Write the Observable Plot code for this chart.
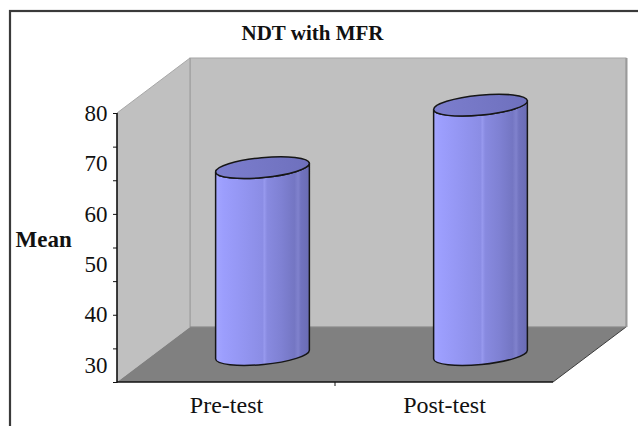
<!DOCTYPE html>
<html>
<head>
<meta charset="utf-8">
<script src="https://cdn.jsdelivr.net/npm/d3@7"></script>
<script src="https://cdn.jsdelivr.net/npm/@observablehq/plot@0.6"></script>
<style>
  html, body { margin: 0; padding: 0; background: #fff; }
  #chart svg { display: block; }
</style>
</head>
<body>
<div id="chart"></div>
<script>
// ---- data ----
const title = "NDT with MFR";
const yLabel = "Mean";
const categories = ["Pre-test", "Post-test"];
const means = [63.7, 76.1];
const yTickLabels = [30, 40, 50, 60, 70, 80];
const yDomain = [26.6, 80];

// ---- styling / layout constants ----
const SERIF = "'Liberation Serif', 'Times New Roman', Times, serif";
const DX = 73, DY = -55;          // 3D depth offset (px)
const NS = "http://www.w3.org/2000/svg";
const data = categories.map((c, i) => ({category: c, mean: means[i]}));
const minorTicks = d3.range(9).map(i => yDomain[1] - i * (yDomain[1] - yDomain[0]) / 8);

function el(doc, tag, attrs, parent) {
  const e = doc.createElementNS(NS, tag);
  for (const k in attrs) e.setAttribute(k, attrs[k]);
  if (parent) parent.appendChild(e);
  return e;
}

// walls, floor, outer border
function decor(index, scales, values, dims, context) {
  const doc = (context && context.document) || document;
  const g = el(doc, "g", {});
  const L = dims.marginLeft, R = dims.width - dims.marginRight;
  const T = dims.marginTop, B = dims.height - dims.marginBottom;
  // outer border (cropped at right/bottom)
  el(doc, "rect", {x: 10, y: 11, width: dims.width + 20, height: dims.height + 20,
    fill: "none", stroke: "#3a3a3a", "stroke-width": 2.2}, g);
  // back wall
  el(doc, "rect", {x: L + DX, y: T + DY, width: R - L, height: B - T,
    fill: "#c0c0c0", stroke: "#a6a6a6", "stroke-width": 1}, g);
  el(doc, "line", {x1: R + DX + 0.5, x2: R + DX + 0.5, y1: T + DY, y2: B + DY,
    stroke: "#9a9a9a", "stroke-width": 2}, g);
  // side wall
  el(doc, "path", {d: `M${L},${T}L${L + DX},${T + DY}L${L + DX},${B + DY}L${L},${B}Z`,
    fill: "#c0c0c0", stroke: "none"}, g);
  el(doc, "line", {x1: L, y1: T, x2: L + DX, y2: T + DY, stroke: "#a8a8a8", "stroke-width": 1}, g);
  el(doc, "line", {x1: L + DX, y1: T + DY, x2: L + DX, y2: B + DY, stroke: "#9a9a9a", "stroke-width": 1}, g);
  // floor
  el(doc, "path", {d: `M${L},${B}L${L + DX},${B + DY}L${R + DX},${B + DY}L${R},${B}Z`,
    fill: "#808080", stroke: "none"}, g);
  el(doc, "line", {x1: R, y1: B, x2: R + DX, y2: B + DY, stroke: "#3c3c3c", "stroke-width": 1}, g);
  el(doc, "line", {x1: L + DX, y1: B + DY, x2: R + DX, y2: B + DY, stroke: "#8a8a8a", "stroke-width": 1}, g);
  return g;
}

// axis lines + category tick
function axisLines(index, scales, values, dims, context) {
  const doc = (context && context.document) || document;
  const g = el(doc, "g", {});
  const L = dims.marginLeft, R = dims.width - dims.marginRight;
  const T = dims.marginTop, B = dims.height - dims.marginBottom;
  el(doc, "line", {x1: L, y1: T, x2: L, y2: B + 0.75, stroke: "#111", "stroke-width": 1.6}, g);
  el(doc, "line", {x1: L, y1: B, x2: R, y2: B, stroke: "#111", "stroke-width": 1.6}, g);
  for (const c of categories.slice(1)) {
    const x = scales.x(c);
    el(doc, "line", {x1: x, x2: x, y1: B, y2: B + 4, stroke: "#111", "stroke-width": 1}, g);
  }
  return g;
}

// cylinders
function cylinders(index, scales, values, dims, context) {
  const doc = (context && context.document) || document;
  const g = el(doc, "g", {});
  const defs = el(doc, "defs", {}, g);
  const grad = el(doc, "linearGradient", {id: "cylBody", x1: 0, x2: 1, y1: 0, y2: 0}, defs);
  [[0, "#a4a6ff"], [0.08, "#9c9efd"], [0.3, "#9395f1"], [0.5, "#8b8de5"], [0.52, "#9799ee"],
   [0.55, "#888ae0"], [0.7, "#7f81d3"], [0.84, "#7476c3"], [0.88, "#8082cd"], [0.91, "#7173bf"],
   [1, "#6a6cb4"]].forEach(([o, c]) => el(doc, "stop", {offset: o, "stop-color": c}, grad));
  const gradTop = el(doc, "linearGradient", {id: "cylTop", x1: 0, x2: 1, y1: 0, y2: 0}, defs);
  [[0, "#7c7ece"], [1, "#6e70bd"]].forEach(([o, c]) => el(doc, "stop", {offset: o, "stop-color": c}, gradTop));

  const bw = scales.x.bandwidth ? scales.x.bandwidth()
    : (dims.width - dims.marginLeft - dims.marginRight) / categories.length;
  const rx = bw * 0.216, ry = 10, rotDeg = -5.5;
  const th = rotDeg * Math.PI / 180, cs = Math.cos(th), sn = Math.sin(th);
  for (const d of data) {
    const cx = scales.x(d.category) + bw / 2 + DX / 2;
    const yb = scales.y(yDomain[0]) + DY / 2;
    const yt = scales.y(d.mean) + DY / 2;
    const lx = cx - rx * cs, rxp = cx + rx * cs;
    const ldy = -rx * sn, rdy = rx * sn;
    const body = `M${lx},${yt + ldy}L${lx},${yb + ldy}` +
      `A${rx},${ry} ${rotDeg} 0 0 ${rxp},${yb + rdy}` +
      `L${rxp},${yt + rdy}` +
      `A${rx},${ry} ${rotDeg} 0 1 ${lx},${yt + ldy}Z`;
    el(doc, "path", {d: body, fill: "url(#cylBody)", stroke: "#161616", "stroke-width": 1.5,
      "stroke-linejoin": "round"}, g);
    el(doc, "ellipse", {cx: cx, cy: yt, rx: rx, ry: ry, transform: `rotate(${rotDeg} ${cx} ${yt})`,
      fill: "url(#cylTop)", stroke: "#161616", "stroke-width": 1.5}, g);
  }
  return g;
}

const chart = Plot.plot({
  width: 638,
  height: 426,
  marginLeft: 117,
  marginRight: 85,
  marginTop: 113,
  marginBottom: 44,
  style: {fontFamily: SERIF, background: "#fff", color: "#111", overflow: "visible"},
  x: {type: "band", domain: categories, padding: 0, axis: null},
  y: {type: "linear", domain: yDomain, axis: null},
  marks: [
    decor,
    cylinders,
    axisLines,
    Plot.axisY({ticks: minorTicks, tickSize: 4, tickFormat: () => "", label: null, stroke: "#111"}),
    Plot.axisY({ticks: yTickLabels, tickSize: 0, tickPadding: 10, fontSize: 23, label: null, fill: "#111"}),
    Plot.axisX({tickSize: 0, tickPadding: 13, fontSize: 24, label: null, fill: "#111"}),
    Plot.text([yLabel], {text: d => d, frameAnchor: "left", textAnchor: "start", lineAnchor: "middle",
      dx: -102, dy: -8, fontSize: 23, fontWeight: "bold", fill: "#111"}),
    Plot.text([title], {text: d => d, frameAnchor: "top", lineAnchor: "middle",
      dx: -23, dy: -80, fontSize: 21, fontWeight: "bold", fill: "#111"})
  ]
});
document.getElementById("chart").appendChild(chart);
</script>
</body>
</html>
